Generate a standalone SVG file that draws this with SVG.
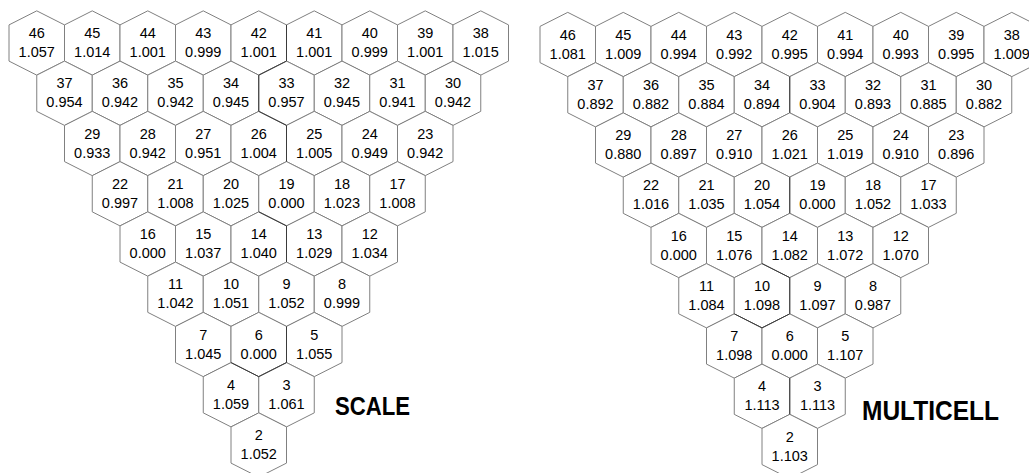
<svg xmlns="http://www.w3.org/2000/svg" xmlns:xlink="http://www.w3.org/1999/xlink" width="1029" height="473" viewBox="0 0 1029 473">
<defs>
<style>
.h{fill:#fff;stroke:#808080;stroke-width:1}
.t{font-family:"Liberation Sans",Arial,sans-serif;font-size:14.5px;fill:#000;text-anchor:middle}
.lbl{font-family:"Liberation Sans",Arial,sans-serif;font-weight:bold;fill:#000}
.dk{fill:none;stroke:#3a3a3a;stroke-width:1}
</style>
<polygon id="hex" class="h" points="0,-32.15 27.75,-18.1 27.75,18.1 0,32.15 -27.75,18.1 -27.75,-18.1"/>
</defs>
<rect width="1029" height="473" fill="#fff"/>
<g id="scale-grid">
<g id="L46" transform="translate(36.75,43)"><use href="#hex"/><text class="t" y="-5">46</text><text class="t" y="14">1.057</text></g>
<g id="L45" transform="translate(92.25,43)"><use href="#hex"/><text class="t" y="-5">45</text><text class="t" y="14">1.014</text></g>
<g id="L44" transform="translate(147.75,43)"><use href="#hex"/><text class="t" y="-5">44</text><text class="t" y="14">1.001</text></g>
<g id="L43" transform="translate(203.25,43)"><use href="#hex"/><text class="t" y="-5">43</text><text class="t" y="14">0.999</text></g>
<g id="L42" transform="translate(258.75,43)"><use href="#hex"/><text class="t" y="-5">42</text><text class="t" y="14">1.001</text></g>
<g id="L41" transform="translate(314.25,43)"><use href="#hex"/><text class="t" y="-5">41</text><text class="t" y="14">1.001</text></g>
<g id="L40" transform="translate(369.75,43)"><use href="#hex"/><text class="t" y="-5">40</text><text class="t" y="14">0.999</text></g>
<g id="L39" transform="translate(425.25,43)"><use href="#hex"/><text class="t" y="-5">39</text><text class="t" y="14">1.001</text></g>
<g id="L38" transform="translate(480.75,43)"><use href="#hex"/><text class="t" y="-5">38</text><text class="t" y="14">1.015</text></g>
<g id="L37" transform="translate(64.5,93.25)"><use href="#hex"/><text class="t" y="-5">37</text><text class="t" y="14">0.954</text></g>
<g id="L36" transform="translate(120,93.25)"><use href="#hex"/><text class="t" y="-5">36</text><text class="t" y="14">0.942</text></g>
<g id="L35" transform="translate(175.5,93.25)"><use href="#hex"/><text class="t" y="-5">35</text><text class="t" y="14">0.942</text></g>
<g id="L34" transform="translate(231,93.25)"><use href="#hex"/><text class="t" y="-5">34</text><text class="t" y="14">0.945</text></g>
<g id="L33" transform="translate(286.5,93.25)"><use href="#hex"/><text class="t" y="-5">33</text><text class="t" y="14">0.957</text></g>
<g id="L32" transform="translate(342,93.25)"><use href="#hex"/><text class="t" y="-5">32</text><text class="t" y="14">0.945</text></g>
<g id="L31" transform="translate(397.5,93.25)"><use href="#hex"/><text class="t" y="-5">31</text><text class="t" y="14">0.941</text></g>
<g id="L30" transform="translate(453,93.25)"><use href="#hex"/><text class="t" y="-5">30</text><text class="t" y="14">0.942</text></g>
<g id="L29" transform="translate(92.25,143.5)"><use href="#hex"/><text class="t" y="-5">29</text><text class="t" y="14">0.933</text></g>
<g id="L28" transform="translate(147.75,143.5)"><use href="#hex"/><text class="t" y="-5">28</text><text class="t" y="14">0.942</text></g>
<g id="L27" transform="translate(203.25,143.5)"><use href="#hex"/><text class="t" y="-5">27</text><text class="t" y="14">0.951</text></g>
<g id="L26" transform="translate(258.75,143.5)"><use href="#hex"/><text class="t" y="-5">26</text><text class="t" y="14">1.004</text></g>
<g id="L25" transform="translate(314.25,143.5)"><use href="#hex"/><text class="t" y="-5">25</text><text class="t" y="14">1.005</text></g>
<g id="L24" transform="translate(369.75,143.5)"><use href="#hex"/><text class="t" y="-5">24</text><text class="t" y="14">0.949</text></g>
<g id="L23" transform="translate(425.25,143.5)"><use href="#hex"/><text class="t" y="-5">23</text><text class="t" y="14">0.942</text></g>
<g id="L22" transform="translate(120,193.75)"><use href="#hex"/><text class="t" y="-5">22</text><text class="t" y="14">0.997</text></g>
<g id="L21" transform="translate(175.5,193.75)"><use href="#hex"/><text class="t" y="-5">21</text><text class="t" y="14">1.008</text></g>
<g id="L20" transform="translate(231,193.75)"><use href="#hex"/><text class="t" y="-5">20</text><text class="t" y="14">1.025</text></g>
<g id="L19" transform="translate(286.5,193.75)"><use href="#hex"/><text class="t" y="-5">19</text><text class="t" y="14">0.000</text></g>
<g id="L18" transform="translate(342,193.75)"><use href="#hex"/><text class="t" y="-5">18</text><text class="t" y="14">1.023</text></g>
<g id="L17" transform="translate(397.5,193.75)"><use href="#hex"/><text class="t" y="-5">17</text><text class="t" y="14">1.008</text></g>
<g id="L16" transform="translate(147.75,244)"><use href="#hex"/><text class="t" y="-5">16</text><text class="t" y="14">0.000</text></g>
<g id="L15" transform="translate(203.25,244)"><use href="#hex"/><text class="t" y="-5">15</text><text class="t" y="14">1.037</text></g>
<g id="L14" transform="translate(258.75,244)"><use href="#hex"/><text class="t" y="-5">14</text><text class="t" y="14">1.040</text></g>
<g id="L13" transform="translate(314.25,244)"><use href="#hex"/><text class="t" y="-5">13</text><text class="t" y="14">1.029</text></g>
<g id="L12" transform="translate(369.75,244)"><use href="#hex"/><text class="t" y="-5">12</text><text class="t" y="14">1.034</text></g>
<g id="L11" transform="translate(175.5,294.25)"><use href="#hex"/><text class="t" y="-5">11</text><text class="t" y="14">1.042</text></g>
<g id="L10" transform="translate(231,294.25)"><use href="#hex"/><text class="t" y="-5">10</text><text class="t" y="14">1.051</text></g>
<g id="L9" transform="translate(286.5,294.25)"><use href="#hex"/><text class="t" y="-5">9</text><text class="t" y="14">1.052</text></g>
<g id="L8" transform="translate(342,294.25)"><use href="#hex"/><text class="t" y="-5">8</text><text class="t" y="14">0.999</text></g>
<g id="L7" transform="translate(203.25,344.5)"><use href="#hex"/><text class="t" y="-5">7</text><text class="t" y="14">1.045</text></g>
<g id="L6" transform="translate(258.75,344.5)"><use href="#hex"/><text class="t" y="-5">6</text><text class="t" y="14">0.000</text></g>
<g id="L5" transform="translate(314.25,344.5)"><use href="#hex"/><text class="t" y="-5">5</text><text class="t" y="14">1.055</text></g>
<g id="L4" transform="translate(231,394.75)"><use href="#hex"/><text class="t" y="-5">4</text><text class="t" y="14">1.059</text></g>
<g id="L3" transform="translate(286.5,394.75)"><use href="#hex"/><text class="t" y="-5">3</text><text class="t" y="14">1.061</text></g>
<g id="L2" transform="translate(258.75,445)"><use href="#hex"/><text class="t" y="-5">2</text><text class="t" y="14">1.052</text></g>
</g>
<g id="multicell-grid">
<g id="R46" transform="translate(567.75,44.5)"><use href="#hex"/><text class="t" y="-5">46</text><text class="t" y="14">1.081</text></g>
<g id="R45" transform="translate(623.25,44.5)"><use href="#hex"/><text class="t" y="-5">45</text><text class="t" y="14">1.009</text></g>
<g id="R44" transform="translate(678.75,44.5)"><use href="#hex"/><text class="t" y="-5">44</text><text class="t" y="14">0.994</text></g>
<g id="R43" transform="translate(734.25,44.5)"><use href="#hex"/><text class="t" y="-5">43</text><text class="t" y="14">0.992</text></g>
<g id="R42" transform="translate(789.75,44.5)"><use href="#hex"/><text class="t" y="-5">42</text><text class="t" y="14">0.995</text></g>
<g id="R41" transform="translate(845.25,44.5)"><use href="#hex"/><text class="t" y="-5">41</text><text class="t" y="14">0.994</text></g>
<g id="R40" transform="translate(900.75,44.5)"><use href="#hex"/><text class="t" y="-5">40</text><text class="t" y="14">0.993</text></g>
<g id="R39" transform="translate(956.25,44.5)"><use href="#hex"/><text class="t" y="-5">39</text><text class="t" y="14">0.995</text></g>
<g id="R38" transform="translate(1011.75,44.5)"><use href="#hex"/><text class="t" y="-5">38</text><text class="t" y="14">1.009</text></g>
<g id="R37" transform="translate(595.5,94.75)"><use href="#hex"/><text class="t" y="-5">37</text><text class="t" y="14">0.892</text></g>
<g id="R36" transform="translate(651,94.75)"><use href="#hex"/><text class="t" y="-5">36</text><text class="t" y="14">0.882</text></g>
<g id="R35" transform="translate(706.5,94.75)"><use href="#hex"/><text class="t" y="-5">35</text><text class="t" y="14">0.884</text></g>
<g id="R34" transform="translate(762,94.75)"><use href="#hex"/><text class="t" y="-5">34</text><text class="t" y="14">0.894</text></g>
<g id="R33" transform="translate(817.5,94.75)"><use href="#hex"/><text class="t" y="-5">33</text><text class="t" y="14">0.904</text></g>
<g id="R32" transform="translate(873,94.75)"><use href="#hex"/><text class="t" y="-5">32</text><text class="t" y="14">0.893</text></g>
<g id="R31" transform="translate(928.5,94.75)"><use href="#hex"/><text class="t" y="-5">31</text><text class="t" y="14">0.885</text></g>
<g id="R30" transform="translate(984,94.75)"><use href="#hex"/><text class="t" y="-5">30</text><text class="t" y="14">0.882</text></g>
<g id="R29" transform="translate(623.25,145)"><use href="#hex"/><text class="t" y="-5">29</text><text class="t" y="14">0.880</text></g>
<g id="R28" transform="translate(678.75,145)"><use href="#hex"/><text class="t" y="-5">28</text><text class="t" y="14">0.897</text></g>
<g id="R27" transform="translate(734.25,145)"><use href="#hex"/><text class="t" y="-5">27</text><text class="t" y="14">0.910</text></g>
<g id="R26" transform="translate(789.75,145)"><use href="#hex"/><text class="t" y="-5">26</text><text class="t" y="14">1.021</text></g>
<g id="R25" transform="translate(845.25,145)"><use href="#hex"/><text class="t" y="-5">25</text><text class="t" y="14">1.019</text></g>
<g id="R24" transform="translate(900.75,145)"><use href="#hex"/><text class="t" y="-5">24</text><text class="t" y="14">0.910</text></g>
<g id="R23" transform="translate(956.25,145)"><use href="#hex"/><text class="t" y="-5">23</text><text class="t" y="14">0.896</text></g>
<g id="R22" transform="translate(651,195.25)"><use href="#hex"/><text class="t" y="-5">22</text><text class="t" y="14">1.016</text></g>
<g id="R21" transform="translate(706.5,195.25)"><use href="#hex"/><text class="t" y="-5">21</text><text class="t" y="14">1.035</text></g>
<g id="R20" transform="translate(762,195.25)"><use href="#hex"/><text class="t" y="-5">20</text><text class="t" y="14">1.054</text></g>
<g id="R19" transform="translate(817.5,195.25)"><use href="#hex"/><text class="t" y="-5">19</text><text class="t" y="14">0.000</text></g>
<g id="R18" transform="translate(873,195.25)"><use href="#hex"/><text class="t" y="-5">18</text><text class="t" y="14">1.052</text></g>
<g id="R17" transform="translate(928.5,195.25)"><use href="#hex"/><text class="t" y="-5">17</text><text class="t" y="14">1.033</text></g>
<g id="R16" transform="translate(678.75,245.5)"><use href="#hex"/><text class="t" y="-5">16</text><text class="t" y="14">0.000</text></g>
<g id="R15" transform="translate(734.25,245.5)"><use href="#hex"/><text class="t" y="-5">15</text><text class="t" y="14">1.076</text></g>
<g id="R14" transform="translate(789.75,245.5)"><use href="#hex"/><text class="t" y="-5">14</text><text class="t" y="14">1.082</text></g>
<g id="R13" transform="translate(845.25,245.5)"><use href="#hex"/><text class="t" y="-5">13</text><text class="t" y="14">1.072</text></g>
<g id="R12" transform="translate(900.75,245.5)"><use href="#hex"/><text class="t" y="-5">12</text><text class="t" y="14">1.070</text></g>
<g id="R11" transform="translate(706.5,295.75)"><use href="#hex"/><text class="t" y="-5">11</text><text class="t" y="14">1.084</text></g>
<g id="R10" transform="translate(762,295.75)"><use href="#hex"/><text class="t" y="-5">10</text><text class="t" y="14">1.098</text></g>
<g id="R9" transform="translate(817.5,295.75)"><use href="#hex"/><text class="t" y="-5">9</text><text class="t" y="14">1.097</text></g>
<g id="R8" transform="translate(873,295.75)"><use href="#hex"/><text class="t" y="-5">8</text><text class="t" y="14">0.987</text></g>
<g id="R7" transform="translate(734.25,346)"><use href="#hex"/><text class="t" y="-5">7</text><text class="t" y="14">1.098</text></g>
<g id="R6" transform="translate(789.75,346)"><use href="#hex"/><text class="t" y="-5">6</text><text class="t" y="14">0.000</text></g>
<g id="R5" transform="translate(845.25,346)"><use href="#hex"/><text class="t" y="-5">5</text><text class="t" y="14">1.107</text></g>
<g id="R4" transform="translate(762,396.25)"><use href="#hex"/><text class="t" y="-5">4</text><text class="t" y="14">1.113</text></g>
<g id="R3" transform="translate(817.5,396.25)"><use href="#hex"/><text class="t" y="-5">3</text><text class="t" y="14">1.113</text></g>
<g id="R2" transform="translate(789.75,446.5)"><use href="#hex"/><text class="t" y="-5">2</text><text class="t" y="14">1.103</text></g>
</g>
<g id="dark-edges">
<path class="dk" d="M286.5,24.9V61.1L258.75,75.15V111.35L286.5,125.4V161.6 M258.75,211.85L286.5,225.9V262.1 M286.5,326.4V362.6L258.75,376.65L231,362.6"/>
<path class="dk" d="M789.75,76.65V112.85 M789.75,177.15V213.35 M762,263.6L789.75,277.65V313.85L762,327.9L734.25,313.85 M789.75,378.15V414.35"/>
</g>
<g id="labels">
<text class="lbl" x="335" y="415" font-size="25.5" textLength="75" lengthAdjust="spacingAndGlyphs">SCALE</text>
<text class="lbl" x="862" y="420" font-size="28" textLength="137" lengthAdjust="spacingAndGlyphs">MULTICELL</text>
</g>
</svg>
